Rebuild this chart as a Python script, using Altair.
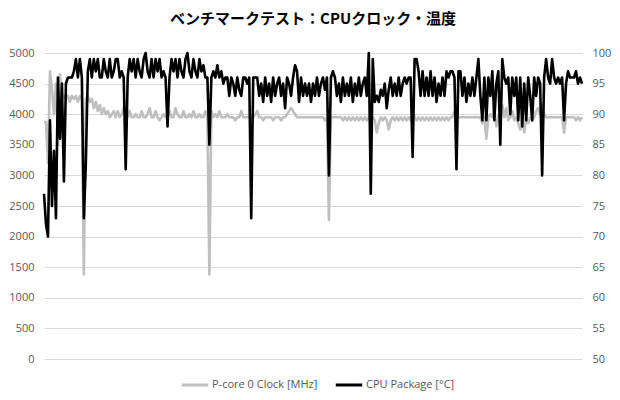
import altair as alt
import pandas as pd

TITLE = "ベンチマークテスト：CPUクロック・温度"
CLOCK_NAME = "P-core 0 Clock [MHz]"
TEMP_NAME = "CPU Package [°C]"

clock_mhz = [
    3870, 3870, 3200, 4700, 4400, 4000, 4500, 3500, 4650, 4300,
    4300, 4250, 4300, 4200, 4300, 4250, 4300, 4200, 4300, 4250,
    1380, 4250, 4300, 4200, 4250, 4100, 4200, 4050, 4150, 4000,
    4100, 4000, 4050, 3950, 4000, 4050, 3950, 4050, 3950, 4000,
    4100, 4000, 3950, 4050, 3950, 3950, 4000, 3950, 3950, 4050,
    3950, 3950, 4000, 4100, 3950, 3950, 4050, 3950, 3900, 3950,
    4000, 3950, 3950, 4050, 3950, 3950, 4100, 4000, 3950, 3950,
    4050, 3950, 3950, 4000, 3950, 4050, 3950, 3950, 4000, 3950,
    3950, 4050, 3950, 1380, 4050, 3950, 4000, 3950, 4050, 3950,
    3950, 3950, 4000, 3950, 3950, 3950, 3900, 3950, 3950, 4050,
    3950, 3950, 3950, 3950, 3950, 3950, 4000, 4050, 3950, 3950,
    3900, 3950, 3950, 3950, 3950, 3900, 3950, 3950, 3950, 3900,
    3950, 3950, 4000, 4050, 4100, 4050, 4000, 3950, 3950, 3950,
    3950, 3950, 3950, 3950, 3950, 3950, 3950, 3950, 3950, 3950,
    3950, 3900, 3950, 2270, 3950, 3950, 3950, 3950, 3950, 3950,
    3900, 3950, 3900, 3950, 3900, 3950, 3900, 3950, 3900, 3950,
    3900, 3950, 3900, 3950, 3900, 3950, 3900, 3700, 3850, 3950,
    3900, 3950, 3900, 3750, 3900, 3950, 3900, 3950, 3900, 3950,
    3900, 3950, 3900, 3950, 3900, 4050, 3950, 3900, 3950, 3900,
    3950, 3900, 3950, 3900, 3950, 3900, 3950, 3900, 3950, 3900,
    3950, 3900, 3950, 3900, 3950, 3950, 4050, 3950, 3950, 3950,
    3950, 3950, 3950, 3950, 3950, 3950, 3950, 3950, 3950, 3950,
    3850, 3950, 3600, 3950, 4000, 3950, 4050, 3800, 3950, 4050,
    4150, 3950, 4100, 3900, 3950, 4050, 3900, 3950, 3850, 3750,
    3950, 3700, 3950, 3850, 3950, 3900, 3950, 4050, 4100, 4000,
    4150, 4000, 3950, 3950, 3950, 3950, 3950, 3950, 3950, 3950,
    3950, 3700, 3950, 3950, 3950, 3950, 3950, 3900, 3950, 3900,
    3950,
]

temp_c = [
    77, 72, 70, 89, 75, 84, 73, 96, 86, 95,
    79, 95, 96, 96, 96, 97, 99, 96, 99, 96,
    73, 82, 97, 99, 96, 99, 97, 99, 96, 96,
    99, 97, 96, 99, 96, 97, 99, 99, 96, 97,
    96, 81, 96, 99, 97, 99, 96, 99, 97, 96,
    99, 100, 97, 96, 99, 96, 99, 97, 99, 96,
    97, 96, 88, 96, 99, 97, 99, 96, 99, 97,
    96, 99, 100, 97, 96, 99, 97, 96, 99, 97,
    98, 96, 96, 85, 96, 97, 96, 98, 96, 97,
    95, 96, 96, 93, 96, 95, 93, 96, 94, 93,
    96, 96, 95, 96, 73, 96, 96, 96, 93, 95,
    92, 96, 93, 95, 92, 96, 93, 95, 96, 93,
    95, 91, 96, 95, 93, 96, 98, 97, 92, 96,
    93, 95, 93, 95, 92, 95, 93, 96, 93, 95,
    96, 94, 96, 80, 96, 97, 96, 93, 95, 92,
    96, 93, 95, 93, 96, 92, 95, 93, 96, 93,
    95, 96, 93, 100, 77, 99, 92, 93, 92, 94,
    93, 95, 91, 94, 96, 93, 95, 93, 96, 93,
    95, 96, 95, 96, 96, 83, 99, 99, 97, 93,
    97, 93, 96, 93, 97, 93, 96, 92, 95, 93,
    96, 93, 97, 96, 97, 97, 96, 81, 97, 97,
    93, 96, 92, 95, 93, 96, 93, 96, 99, 93,
    89, 96, 89, 96, 93, 97, 89, 95, 97, 85,
    99, 96, 95, 96, 90, 96, 93, 96, 89, 96,
    88, 95, 89, 96, 93, 89, 96, 93, 96, 95,
    80, 96, 99, 96, 95, 99, 96, 95, 96, 95,
    96, 89, 95, 97, 96, 96, 96, 97, 95, 96,
    95,
]

clock_ticks = list(range(0, 5001, 500))
temp_ticks = list(range(50, 101, 5))

clock_df = pd.DataFrame({"i": range(len(clock_mhz)), "v": clock_mhz, "series": CLOCK_NAME})
temp_df = pd.DataFrame({"i": range(len(temp_c)), "v": temp_c, "series": TEMP_NAME})

xmax = max(len(clock_mhz), len(temp_c)) - 1
xenc = alt.X("i:Q", axis=None, scale=alt.Scale(domain=[0, xmax], nice=False, zero=False))

color = alt.Color(
    "series:N",
    scale=alt.Scale(domain=[CLOCK_NAME, TEMP_NAME], range=["#bfbfbf", "#000000"]),
    legend=alt.Legend(
        title=None, orient="none", direction="horizontal", legendX=136, legendY=317,
        symbolType="stroke", symbolStrokeWidth=3, symbolSize=700,
        labelFontSize=11, labelColor="#595959", labelFont="Open Sans",
        columnPadding=11, labelOffset=2,
    ),
)

axis_common = dict(
    domain=False, ticks=False, labelFontSize=11, labelColor="#595959",
    labelFont="Open Sans", title=None, format="d",
)

clock_line = alt.Chart(clock_df).mark_line(strokeWidth=2.6, strokeJoin="round").encode(
    x=xenc,
    y=alt.Y("v:Q", scale=alt.Scale(domain=[0, 5000], nice=False),
            axis=alt.Axis(values=clock_ticks, orient="left", grid=True, gridColor="#d9d9d9",
                          labelPadding=10, **axis_common)),
    color=color,
)

temp_line = alt.Chart(temp_df).mark_line(strokeWidth=2.6, strokeJoin="round").encode(
    x=xenc,
    y=alt.Y("v:Q", scale=alt.Scale(domain=[50, 100], nice=False, zero=False),
            axis=alt.Axis(values=temp_ticks, orient="right", grid=False,
                          labelPadding=10, **axis_common)),
    color=color,
)

chart = (
    alt.layer(clock_line, temp_line)
    .resolve_scale(y="independent", color="shared")
    .properties(
        width=538, height=306,
        padding={"top": 4, "left": 0, "right": 0, "bottom": 0},
        title=alt.Title(TITLE, font="Noto Sans CJK JP", fontSize=15, fontWeight="bold",
                        color="#000000", offset=20, anchor="middle"),
    )
    .configure_view(stroke=None)
)

chart.save("out.html", embed_options={"renderer": "svg", "actions": False})
